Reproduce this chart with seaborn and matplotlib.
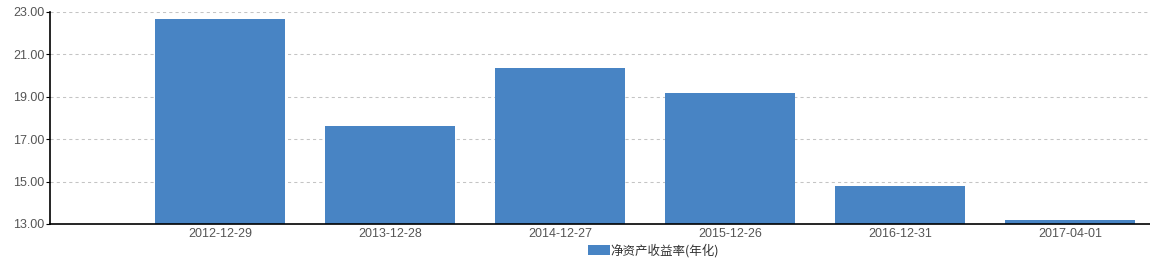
import matplotlib
matplotlib.use("Agg")
import matplotlib.pyplot as plt
import seaborn as sns
import pandas as pd

dates = ["2012-12-29", "2013-12-28", "2014-12-27", "2015-12-26", "2016-12-31", "2017-04-01"]
roe = [22.67, 17.63, 20.36, 19.20, 14.78, 13.19]
series_name = "净资产收益率(年化)"
yticks = [13, 15, 17, 19, 21, 23]

sns.set_style("white")
plt.rcParams['font.family'] = ['Liberation Sans', 'Noto Sans CJK SC', 'DejaVu Sans']

W, H = 1150, 262
fig = plt.figure(figsize=(W / 100, H / 100), dpi=100)
ax = fig.add_axes([50 / W, 38 / H, 1100 / W, 212 / H])

df = pd.DataFrame({"date": dates, "roe": roe})
sns.barplot(data=df, x="date", y="roe", color="#4884c4", saturation=1,
            width=0.765, ax=ax, label=series_name, edgecolor="none", linewidth=0)

ax.set_xlim(-1, 5 + 80 / 170)
ax.set_ylim(13, 23)
ax.set_yticks(yticks)
ax.set_yticklabels([f"{v:.2f}" for v in yticks])
ax.set_xlabel("")
ax.set_ylabel("")

ax.yaxis.grid(True, color="#c4c4c4", linewidth=0.75, linestyle=(0, (3, 3)))
ax.xaxis.grid(False)
ax.set_axisbelow(True)

for s in ["top", "right"]:
    ax.spines[s].set_visible(False)
for s in ["left", "bottom"]:
    ax.spines[s].set_color("#000000")
    ax.spines[s].set_linewidth(1.2)

ax.tick_params(axis="y", which="both", left=True, length=3, width=0.8,
               color="#000000", labelsize=9, labelcolor="#555555", pad=1)
ax.tick_params(axis="x", which="both", bottom=False, length=0,
               labelsize=9, labelcolor="#555555", pad=3)

leg = ax.get_legend()
if leg is not None:
    leg.remove()
handles, labels = ax.get_legend_handles_labels()
fig.legend(handles[:1], labels[:1], loc="center left",
           bbox_to_anchor=(588 / W, 1 - 250.5 / H), frameon=False,
           borderpad=0, borderaxespad=0, handlelength=1.76, handleheight=0.8,
           handletextpad=0.05, prop={"family": ["Noto Sans CJK SC"], "size": 9},
           labelcolor="#333333")

fig.savefig("out.png", dpi=100)
